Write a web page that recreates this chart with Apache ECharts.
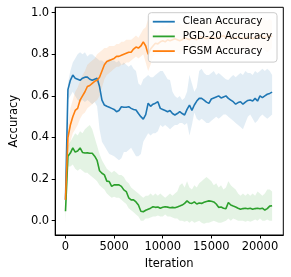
<!DOCTYPE html>
<html><head><meta charset="utf-8">
<script src="https://cdn.jsdelivr.net/npm/echarts@6/dist/echarts.min.js"></script>
<style>html,body{margin:0;padding:0;background:#fff}#c{width:291px;height:277px}</style>
</head><body><div id="c"></div>
<script>
const iterations = Array.from({length: 86}, (_, i) => i * 250);
const xTicks = [0, 5000, 10000, 15000, 20000];
const yTicks = [0, 0.2, 0.4, 0.6, 0.8, 1.0];
const seriesNames = ['Clean Accuracy', 'PGD-20 Accuracy', 'FGSM Accuracy'];

const cleanMean = [0.10,0.63,0.675,0.70,0.685,0.68,0.675,0.685,0.69,0.69,
 0.68,0.675,0.68,0.685,0.645,0.58,0.556,0.55,0.545,0.54,
 0.535,0.524,0.53,0.548,0.545,0.545,0.548,0.54,0.535,0.532,
 0.515,0.50,0.488,0.51,0.565,0.55,0.56,0.565,0.572,0.54,
 0.535,0.53,0.524,0.53,0.515,0.508,0.515,0.524,0.515,0.508,
 0.535,0.556,0.53,0.556,0.575,0.588,0.588,0.58,0.57,0.564,
 0.585,0.59,0.595,0.60,0.59,0.595,0.60,0.588,0.58,0.572,
 0.56,0.568,0.572,0.56,0.57,0.578,0.58,0.575,0.588,0.575,
 0.60,0.592,0.60,0.608,0.612,0.618];
const cleanHi = [0.12,0.66,0.72,0.76,0.78,0.80,0.81,0.80,0.81,0.79,
 0.80,0.80,0.79,0.78,0.77,0.77,0.76,0.77,0.78,0.77,
 0.77,0.76,0.77,0.75,0.76,0.75,0.74,0.75,0.73,0.72,
 0.66,0.65,0.68,0.69,0.70,0.69,0.69,0.70,0.71,0.72,
 0.72,0.70,0.68,0.676,0.62,0.60,0.59,0.60,0.58,0.59,
 0.62,0.70,0.66,0.62,0.64,0.72,0.73,0.71,0.70,0.70,
 0.71,0.72,0.70,0.71,0.70,0.69,0.68,0.676,0.69,0.70,
 0.69,0.70,0.71,0.70,0.72,0.71,0.71,0.70,0.72,0.71,
 0.72,0.73,0.72,0.73,0.72,0.70];
const cleanLo = [0.08,0.58,0.60,0.62,0.60,0.58,0.57,0.58,0.57,0.58,
 0.57,0.56,0.57,0.55,0.44,0.38,0.36,0.34,0.32,0.316,
 0.31,0.30,0.29,0.30,0.33,0.33,0.34,0.35,0.33,0.31,
 0.31,0.32,0.38,0.40,0.42,0.41,0.42,0.42,0.43,0.46,
 0.45,0.46,0.45,0.44,0.45,0.46,0.46,0.47,0.47,0.46,
 0.47,0.41,0.46,0.52,0.49,0.48,0.49,0.48,0.47,0.47,
 0.48,0.49,0.50,0.49,0.50,0.51,0.51,0.50,0.49,0.48,
 0.47,0.46,0.45,0.44,0.47,0.50,0.51,0.49,0.47,0.48,
 0.50,0.51,0.50,0.49,0.50,0.51];

const fgsmMean = [0.10,0.40,0.46,0.50,0.53,0.54,0.58,0.60,0.62,0.645,
 0.65,0.66,0.67,0.675,0.69,0.72,0.75,0.765,0.77,0.775,
 0.78,0.79,0.79,0.795,0.80,0.805,0.81,0.81,0.825,0.835,
 0.83,0.84,0.86,0.84,0.80,0.825,0.84,0.853,0.85,0.86,
 0.865,0.86,0.87,0.865,0.87,0.875,0.87,0.865,0.87,0.88,
 0.875,0.87,0.88,0.875,0.87,0.88,0.885,0.88,0.875,0.88,
 0.885,0.88,0.875,0.88,0.885,0.89,0.88,0.885,0.88,0.875,
 0.88,0.885,0.88,0.875,0.88,0.885,0.88,0.875,0.88,0.885,
 0.89,0.885,0.88,0.885,0.89,0.885];
const fgsmHi = [0.12,0.46,0.54,0.58,0.62,0.64,0.67,0.70,0.72,0.75,
 0.76,0.77,0.78,0.80,0.81,0.82,0.83,0.83,0.84,0.84,
 0.84,0.85,0.85,0.86,0.86,0.87,0.87,0.87,0.88,0.89,
 0.88,0.90,0.92,0.93,0.97,0.96,0.92,0.91,0.90,0.93,
 0.94,0.93,0.94,0.95,0.94,0.95,0.96,0.95,0.94,0.95,
 0.96,0.95,0.94,0.95,0.96,0.95,0.96,0.97,0.96,0.95,
 0.96,0.97,0.96,0.95,0.96,0.98,0.97,0.96,0.97,0.96,
 0.95,0.96,0.97,0.96,0.95,0.96,0.97,0.98,0.97,0.96,
 0.97,0.98,0.97,0.96,0.97,0.96];
const fgsmLo = [0.08,0.32,0.38,0.42,0.44,0.46,0.49,0.51,0.52,0.54,
 0.55,0.56,0.57,0.58,0.60,0.64,0.68,0.70,0.71,0.72,
 0.73,0.74,0.74,0.75,0.75,0.76,0.76,0.77,0.78,0.79,
 0.78,0.79,0.80,0.76,0.72,0.75,0.79,0.80,0.80,0.80,
 0.81,0.80,0.81,0.80,0.81,0.82,0.81,0.80,0.81,0.82,
 0.81,0.80,0.81,0.82,0.81,0.82,0.83,0.82,0.81,0.82,
 0.82,0.81,0.80,0.81,0.82,0.83,0.82,0.81,0.82,0.81,
 0.82,0.83,0.82,0.81,0.82,0.83,0.82,0.81,0.82,0.83,
 0.82,0.83,0.82,0.81,0.82,0.83];

const pgdMean = [0.045,0.31,0.325,0.35,0.33,0.335,0.35,0.328,0.325,0.326,
 0.324,0.324,0.31,0.29,0.24,0.228,0.22,0.19,0.188,0.165,
 0.172,0.172,0.172,0.165,0.148,0.14,0.11,0.10,0.10,0.09,
 0.075,0.045,0.043,0.05,0.055,0.06,0.067,0.064,0.066,0.06,
 0.064,0.067,0.065,0.062,0.064,0.062,0.066,0.07,0.075,0.083,
 0.095,0.085,0.083,0.09,0.08,0.085,0.083,0.088,0.092,0.095,
 0.093,0.09,0.08,0.064,0.066,0.06,0.058,0.087,0.075,0.07,
 0.066,0.06,0.055,0.058,0.06,0.057,0.06,0.055,0.058,0.06,
 0.057,0.06,0.051,0.058,0.07,0.072];
const pgdHi = [0.06,0.36,0.38,0.40,0.42,0.41,0.43,0.42,0.44,0.45,
 0.46,0.44,0.40,0.36,0.32,0.29,0.27,0.25,0.24,0.23,
 0.24,0.23,0.22,0.22,0.21,0.19,0.18,0.16,0.15,0.14,
 0.13,0.12,0.11,0.12,0.12,0.13,0.12,0.13,0.12,0.13,
 0.12,0.11,0.12,0.13,0.12,0.13,0.14,0.17,0.18,0.16,
 0.19,0.16,0.15,0.17,0.16,0.18,0.19,0.20,0.21,0.20,
 0.19,0.17,0.18,0.16,0.17,0.15,0.16,0.19,0.17,0.16,
 0.15,0.13,0.12,0.13,0.12,0.13,0.12,0.13,0.12,0.14,
 0.13,0.12,0.13,0.15,0.15,0.14];
const pgdLo = [-0.01,0.26,0.26,0.27,0.25,0.24,0.25,0.24,0.23,0.23,
 0.22,0.21,0.20,0.19,0.17,0.16,0.15,0.13,0.12,0.11,
 0.115,0.11,0.11,0.10,0.09,0.08,0.06,0.05,0.04,0.03,
 0.02,0.0,0.0,0.01,0.01,0.015,0.02,0.02,0.025,0.02,
 0.02,0.03,0.02,0.02,0.015,0.01,0.01,0.0,0.0,-0.005,
 0.0,-0.01,0.0,-0.01,-0.005,0.0,-0.01,-0.015,-0.01,-0.01,
 -0.005,0.0,-0.005,-0.01,-0.01,-0.005,0.0,0.01,0.0,0.01,
 0.005,0.0,0.0,0.0,-0.005,0.0,-0.005,0.0,0.005,0.0,
 0.01,0.0,0.0,0.005,0.0,0.0];

const colors = ['#1f77b4', '#2ca02c', '#ff7f0e'];
const bandFills = ['rgba(31,119,180,0.13)', 'rgba(44,160,44,0.13)', 'rgba(255,127,14,0.13)'];
const FONT = 'DejaVu Sans';

function pairs(arr) { return iterations.map((x, i) => [x, arr[i]]); }
function band(key, lo, hi, fill) {
  return {
    type: 'custom', name: key + '_band', silent: true, z: 1, clip: true,
    data: iterations.map((x, i) => [x, lo[i], hi[i]]),
    encode: { x: 0, y: [1, 2] },
    renderItem: function (params, api) {
      if (params.dataIndex !== 0) return null;
      const pts = [];
      for (let i = 0; i < iterations.length; i++) pts.push(api.coord([iterations[i], hi[i]]));
      for (let i = iterations.length - 1; i >= 0; i--) pts.push(api.coord([iterations[i], lo[i]]));
      return { type: 'polygon', shape: { points: pts }, style: { fill: fill, stroke: null } };
    }
  };
}
function line(name, arr, color) {
  return { type: 'line', name: name, data: pairs(arr), symbol: 'none', showSymbol: false,
    lineStyle: { color: color, width: 1.6 }, itemStyle: { color: color }, z: 3 };
}

const chart = echarts.init(document.getElementById('c'), null, { renderer: 'canvas' });
chart.setOption({
  animation: false,
  textStyle: { fontFamily: FONT },
  grid: { left: 48.7, right: 7.7, top: 7.3, bottom: 42, show: true, borderColor: '#000', borderWidth: 1, backgroundColor: 'transparent' },
  xAxis: {
    type: 'value', min: -1060, max: 22400,
    name: 'Iteration', nameLocation: 'middle', nameGap: 21,
    nameTextStyle: { fontFamily: FONT, fontSize: 11.5, color: '#000' },
    axisLine: { show: true, onZero: false, lineStyle: { color: '#000', width: 1 } },
    axisTick: { show: true, length: 3.5, lineStyle: { color: '#000' }, customValues: xTicks },
    axisLabel: { fontFamily: FONT, fontSize: 11.5, color: '#000', margin: 6, customValues: xTicks,
      formatter: v => String(Math.round(v)) },
    splitLine: { show: false }
  },
  yAxis: {
    type: 'value', min: -0.069, max: 1.026,
    name: 'Accuracy', nameLocation: 'middle', nameGap: 29, nameRotate: 90,
    nameTextStyle: { fontFamily: FONT, fontSize: 11.5, color: '#000' },
    axisLine: { show: true, onZero: false, lineStyle: { color: '#000', width: 1 } },
    axisTick: { show: true, length: 3.5, lineStyle: { color: '#000' }, customValues: yTicks },
    axisLabel: { fontFamily: FONT, fontSize: 11.5, color: '#000', margin: 6, customValues: yTicks,
      formatter: v => v.toFixed(1) },
    splitLine: { show: false }
  },
  legend: {
    data: seriesNames,
    orient: 'vertical', left: 148.3, top: 12.7,
    icon: 'rect', itemWidth: 22, itemHeight: 1.8, itemGap: 2.7,
    padding: [3, 5, 5, 4.5],
    backgroundColor: 'rgba(255,255,255,0.8)', borderColor: '#cccccc', borderWidth: 1, borderRadius: 3,
    textStyle: { fontFamily: FONT, fontSize: 10.3, color: '#000', lineHeight: 12, padding: [0, 0, 0, 3] }
  },
  series: [
    band('clean', cleanLo, cleanHi, bandFills[0]),
    line(seriesNames[0], cleanMean, colors[0]),
    band('pgd', pgdLo, pgdHi, bandFills[1]),
    line(seriesNames[1], pgdMean, colors[1]),
    band('fgsm', fgsmLo, fgsmHi, bandFills[2]),
    line(seriesNames[2], fgsmMean, colors[2])
  ]
});
</script></body></html>
